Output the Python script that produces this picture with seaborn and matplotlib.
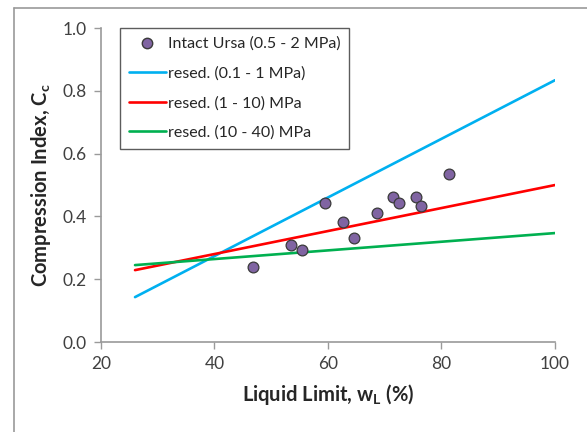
import numpy as np
import pandas as pd
import matplotlib
matplotlib.use('Agg')
import matplotlib.pyplot as plt
import seaborn as sns
from matplotlib.lines import Line2D

# Intact Ursa points
liquid_limit = [46.7, 53.5, 55.5, 59.5, 62.6, 64.5, 68.6, 71.5, 72.5, 75.5, 76.4, 81.4]
comp_index = [0.240, 0.310, 0.292, 0.442, 0.381, 0.330, 0.410, 0.461, 0.442, 0.461, 0.432, 0.535]

# resedimented trend lines (end points)
line_x = [26, 100]
blue_y = [0.143, 0.834]
red_y = [0.229, 0.500]
green_y = [0.245, 0.347]

series_names = ['resed. (0.1 - 1 MPa)', 'resed. (1 - 10) MPa', 'resed. (10 - 40) MPa']
series_colors = ['#00B0F0', '#FF0000', '#00B050']

sns.set_style('white')
plt.rcParams['font.family'] = ['Lato', 'DejaVu Sans']
plt.rcParams['mathtext.fontset'] = 'custom'
plt.rcParams['mathtext.rm'] = 'Lato'
plt.rcParams['mathtext.bf'] = 'Lato:bold'

lines_df = pd.DataFrame({
    'x': line_x * 3,
    'y': blue_y + red_y + green_y,
    'series': [series_names[0]] * 2 + [series_names[1]] * 2 + [series_names[2]] * 2,
})
points_df = pd.DataFrame({'wl': liquid_limit, 'cc': comp_index})

fig = plt.figure(figsize=(5.87, 4.32), dpi=100)
ax = fig.add_axes([0.172, 0.2083, 0.7735, 0.7267])

sns.lineplot(data=lines_df, x='x', y='y', hue='series', palette=series_colors,
             linewidth=1.9, ax=ax, legend=False, zorder=2)
sns.scatterplot(data=points_df, x='wl', y='cc', color='#8064A2', edgecolor='#3a3a3a',
                linewidth=0.9, s=60, ax=ax, zorder=3)

ax.set_xlim(20, 100)
ax.set_ylim(0, 1.0)
ax.set_xticks([20, 40, 60, 80, 100])
ax.set_yticks(np.arange(0, 1.01, 0.2))
ax.set_yticklabels([f'{v:.1f}' for v in np.arange(0, 1.01, 0.2)])
ax.tick_params(axis='both', direction='out', length=5, width=1, color='#9a9a9a',
               labelsize=12.5, labelcolor='#404040', left=True, bottom=True, pad=5)
for side in ['top', 'right']:
    ax.spines[side].set_visible(False)
for side in ['left', 'bottom']:
    ax.spines[side].set_color('#9a9a9a')
    ax.spines[side].set_linewidth(1.2)

ax.set_xlabel(r'Liquid Limit, $\mathbf{w_L}$ (%)', fontsize=14.5, fontweight='bold', labelpad=7)
ax.set_ylabel(r'Compression Index, $\mathbf{C_c}$', fontsize=14.5, fontweight='bold', labelpad=7)

handles = [Line2D([], [], marker='o', linestyle='none', markerfacecolor='#8064A2',
                  markeredgecolor='#3a3a3a', markersize=7.5)]
handles += [Line2D([], [], color=c, linewidth=1.9) for c in series_colors]
labels = ['Intact Ursa (0.5 - 2 MPa)'] + series_names
leg = ax.legend(handles, labels, loc='upper left', bbox_to_anchor=(0.042, 1.0),
                fontsize=11.5, frameon=True, fancybox=False, handlelength=2.3,
                handletextpad=0.15, labelspacing=0.95, borderpad=0.55, borderaxespad=0.0)
leg.get_frame().set_edgecolor('#333333')
leg.get_frame().set_linewidth(1.0)

# outer chart border (top and left only, the rest is cropped)
fig.add_artist(Line2D([14 / 587, 14 / 587], [0, 1 - 8 / 432], color='#9a9a9a',
                      linewidth=1.2, transform=fig.transFigure))
fig.add_artist(Line2D([14 / 587, 1], [1 - 8 / 432, 1 - 8 / 432], color='#9a9a9a',
                      linewidth=1.2, transform=fig.transFigure))

fig.savefig('out.png', dpi=100)
